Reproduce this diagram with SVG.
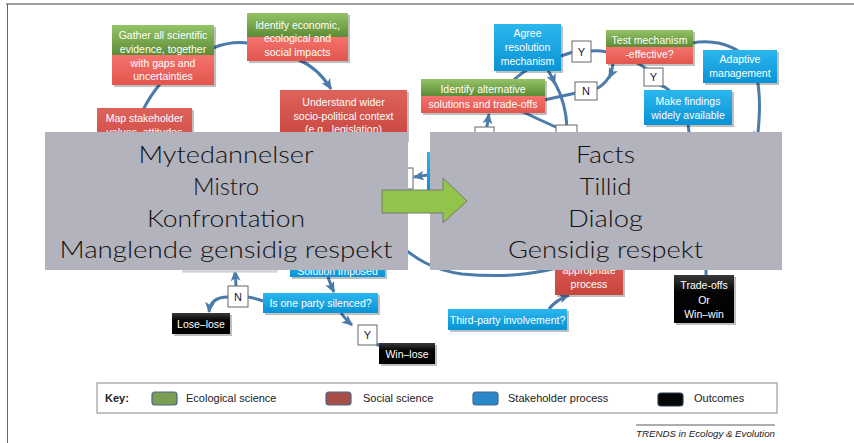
<svg xmlns="http://www.w3.org/2000/svg" width="854" height="443" viewBox="0 0 854 443">
<defs>
<linearGradient id="gG" x1="0" y1="0" x2="0" y2="1"><stop offset="0" stop-color="#94c466"/><stop offset="1" stop-color="#5c8b36"/></linearGradient>
<linearGradient id="gR" x1="0" y1="0" x2="0" y2="1"><stop offset="0" stop-color="#f4736c"/><stop offset="1" stop-color="#e2564f"/></linearGradient>
<linearGradient id="gRD" x1="0" y1="0" x2="0" y2="1"><stop offset="0" stop-color="#de625b"/><stop offset="1" stop-color="#c9463f"/></linearGradient>
<linearGradient id="gB" x1="0" y1="0" x2="0" y2="1"><stop offset="0" stop-color="#2cb6ee"/><stop offset="1" stop-color="#0a93d5"/></linearGradient>
<linearGradient id="gK" x1="0" y1="0" x2="0" y2="1"><stop offset="0" stop-color="#3a3a3a"/><stop offset="0.35" stop-color="#050505"/><stop offset="1" stop-color="#000"/></linearGradient>
<marker id="ah" viewBox="0 0 10 10" refX="9" refY="5" markerWidth="11" markerHeight="11" markerUnits="userSpaceOnUse" orient="auto"><path d="M0,0.5 L10,5 L0,9.5 L2.5,5 z" fill="#4a7bab"/></marker>
<style>
.c{fill:none;stroke:#4a7bab;stroke-width:3}
.sh{fill:#000;opacity:.25}
.t{font-family:"Liberation Sans",Arial,sans-serif;font-size:10.5px;fill:#fff;text-anchor:middle}
.lb{fill:#fff;stroke:#666;stroke-width:1}
.lt{font-family:"Liberation Sans",Arial,sans-serif;font-size:11px;fill:#1a1a3a;text-anchor:middle}
.kt{font-family:"Liberation Sans",Arial,sans-serif;font-size:11px;fill:#222}
.ov{fill:#b3b3bd}
.bt{font-family:"Lato","DejaVu Sans","Liberation Sans",sans-serif;font-weight:300;font-size:24px;fill:#111;text-anchor:middle}
</style>
</defs>
<rect width="854" height="443" fill="#fff"/>
<line x1="6" y1="4" x2="854" y2="4" stroke="#a0a0a0" stroke-width="2"/>
<line x1="7.5" y1="4" x2="7.5" y2="443" stroke="#666" stroke-width="1"/>

<g id="connectors">
<path class="c" d="M143,110 Q150,96 160,84"/>
<path class="c" d="M213,48 Q230,41 248,43"/>
<path class="c" d="M299,60 Q318,68 331,89" marker-end="url(#ah)"/>
<path class="c" d="M561,56 L573,52"/>
<path class="c" d="M590,51 Q598,50 607,52"/>
<path class="c" d="M613,64 Q612,72 609,78" marker-end="url(#ah)"/>
<path class="c" d="M609,77 Q604,85 596,89"/>
<path class="c" d="M576,93 L544,100"/>
<path class="c" d="M637,63 Q643,66 648,70"/>
<path class="c" d="M660,85 Q666,87 670,91"/>
<path class="c" d="M692,43 C720,38 752,50 757,78 C761,98 760,118 757,141" marker-end="url(#ah)"/>
<path class="c" d="M688,124 L690,140"/>
<path class="c" d="M503,92 Q515,76 532,67"/>
<path class="c" d="M548,70 Q552,77 555,84" marker-end="url(#ah)"/>
<path class="c" d="M555,83 Q566,103 567,128"/>
<path class="c" d="M523,112 Q540,120 558,128"/>
<path class="c" d="M486,132 L489,114" marker-end="url(#ah)"/>
<path class="c" d="M428,175 L414,177" marker-end="url(#ah)"/>
<path class="c" d="M398,244 C415,258 432,270 462,274 C505,278 532,274 557,268"/>
<path class="c" d="M328,277 Q331,286 334,292" marker-end="url(#ah)"/>
<path class="c" d="M263,301 Q255,298 248,297"/>
<path class="c" d="M236,286 L235,271" marker-end="url(#ah)"/>
<path class="c" d="M228,297 C216,297 210,302 209,312" marker-end="url(#ah)"/>
<path class="c" d="M341,313 Q346,320 352,325" marker-end="url(#ah)"/>
<path class="c" d="M376,344 L381,346"/>
<path class="c" d="M549,309 Q556,300 569,295" marker-end="url(#ah)"/>
<path class="c" d="M706,262 L706,276"/>
</g>

<g id="n-gather">
<rect class="sh" x="114" y="27" width="102" height="60"/>
<rect x="112" y="25" width="102" height="30" fill="url(#gG)"/>
<rect x="112" y="55" width="102" height="30" fill="url(#gR)"/>
<text class="t" x="163" y="38.5">Gather all scientific</text>
<text class="t" x="163" y="52.5">evidence, together</text>
<text class="t" x="163" y="66.5">with gaps and</text>
<text class="t" x="163" y="80">uncertainties</text>
</g>
<g id="n-econ">
<rect class="sh" x="249" y="15" width="101" height="48"/>
<rect x="247" y="13" width="101" height="24" fill="url(#gG)"/>
<rect x="247" y="37" width="101" height="24" fill="url(#gR)"/>
<text class="t" x="297.5" y="28.5">Identify economic,</text>
<text class="t" x="297.5" y="42">ecological and</text>
<text class="t" x="297.5" y="55.5">social impacts</text>
</g>
<g id="n-map">
<rect class="sh" x="99" y="110" width="95" height="50"/>
<rect x="97" y="108" width="95" height="50" fill="url(#gRD)"/>
<text class="t" x="144.5" y="121.5">Map stakeholder</text>
<text class="t" x="144.5" y="135.5">values, attitudes</text>
</g>
<g id="n-understand">
<rect class="sh" x="282" y="92" width="127" height="50"/>
<rect x="280" y="90" width="127" height="50" fill="url(#gRD)"/>
<text class="t" x="343.5" y="105.5">Understand wider</text>
<text class="t" x="343.5" y="119.5">socio-political context</text>
<text class="t" x="343.5" y="133">(e.g., legislation)</text>
</g>
<g id="n-agree">
<rect class="sh" x="496" y="26" width="67" height="47"/>
<rect x="494" y="24" width="67" height="47" fill="url(#gB)"/>
<text class="t" x="527.5" y="36.5">Agree</text>
<text class="t" x="527.5" y="50.5">resolution</text>
<text class="t" x="527.5" y="64.5">mechanism</text>
</g>
<g id="n-test">
<rect class="sh" x="608" y="32" width="87" height="34"/>
<rect x="606" y="30" width="87" height="17" fill="url(#gG)"/>
<rect x="606" y="47" width="87" height="17" fill="url(#gR)"/>
<text class="t" x="649.5" y="43.5">Test mechanism</text>
<text class="t" x="649.5" y="57.5">-effective?</text>
</g>
<g id="n-altern">
<rect class="sh" x="423" y="81" width="124" height="34"/>
<rect x="421" y="79" width="124" height="17" fill="url(#gG)"/>
<rect x="421" y="96" width="124" height="17" fill="url(#gR)"/>
<text class="t" x="483" y="93">Identify alternative</text>
<text class="t" x="483" y="107.5">solutions and trade-offs</text>
</g>
<g id="n-adaptive">
<rect class="sh" x="705" y="52" width="74" height="33"/>
<rect x="703" y="50" width="74" height="33" fill="url(#gB)"/>
<text class="t" x="740" y="62.5">Adaptive</text>
<text class="t" x="740" y="76.5">management</text>
</g>
<g id="n-findings">
<rect class="sh" x="646" y="92" width="88" height="35"/>
<rect x="644" y="90" width="88" height="35" fill="url(#gB)"/>
<text class="t" x="688" y="104.5">Make findings</text>
<text class="t" x="688" y="118.5">widely available</text>
</g>
<g id="n-hidden-blue">
<rect x="427" y="152" width="70" height="38" fill="url(#gB)"/>
</g>
<g id="n-hidden-light">
<rect x="183" y="240" width="94" height="32" fill="#dcdce3" stroke="#c4c4cc"/>
</g>
<g id="n-imposed">
<rect class="sh" x="292" y="260" width="95" height="19"/>
<rect x="290" y="258" width="95" height="19" fill="url(#gB)"/>
<text class="t" x="337.5" y="275">Solution imposed</text>
</g>
<g id="n-silenced">
<rect class="sh" x="265" y="295" width="115" height="20"/>
<rect x="263" y="293" width="115" height="20" fill="url(#gB)"/>
<text class="t" x="320.5" y="307">Is one party silenced?</text>
</g>
<g id="n-loselose">
<rect class="sh" x="174" y="315" width="58" height="21"/>
<rect x="172" y="313" width="58" height="21" fill="url(#gK)"/>
<text class="t" x="201" y="327.5">Lose–lose</text>
</g>
<g id="n-winlose">
<rect class="sh" x="381" y="345" width="56" height="21"/>
<rect x="379" y="343" width="56" height="21" fill="url(#gK)"/>
<text class="t" x="407" y="357.5">Win–lose</text>
</g>
<g id="n-appropriate">
<rect class="sh" x="557" y="250" width="68" height="47"/>
<rect x="555" y="248" width="68" height="47" fill="url(#gRD)"/>
<text class="t" x="589" y="274">appropriate</text>
<text class="t" x="589" y="288">process</text>
</g>
<g id="n-thirdparty">
<rect class="sh" x="450" y="311" width="119" height="21"/>
<rect x="448" y="309" width="119" height="21" fill="url(#gB)"/>
<text class="t" x="507.5" y="323.5">Third-party involvement?</text>
</g>
<g id="n-tradeoffs">
<rect class="sh" x="676" y="277" width="60" height="48"/>
<rect x="674" y="275" width="60" height="48" fill="url(#gK)"/>
<text class="t" x="704" y="289">Trade-offs</text>
<text class="t" x="704" y="304">Or</text>
<text class="t" x="704" y="318">Win–win</text>
</g>

<g id="labels">
<rect class="lb" x="572" y="41" width="19" height="21"/><text class="lt" x="581.5" y="55.5">Y</text>
<rect class="lb" x="644" y="68" width="19" height="18"/><text class="lt" x="653.5" y="81">Y</text>
<rect class="lb" x="575" y="82" width="22" height="18"/><text class="lt" x="586" y="95">N</text>
<rect class="lb" x="475" y="127" width="19" height="20"/>
<rect class="lb" x="556" y="125" width="21" height="20"/>
<rect class="lb" x="395" y="168" width="18" height="21"/>
<rect class="lb" x="228" y="286" width="20" height="21"/><text class="lt" x="238" y="300.5">N</text>
<rect class="lb" x="358" y="325" width="19" height="20"/><text class="lt" x="367.5" y="339">Y</text>
</g>

<g id="key">
<rect x="97" y="383" width="680" height="30" fill="#fff" stroke="#888" stroke-width="1"/>
<text class="kt" x="105" y="402" font-weight="bold">Key:</text>
<rect x="152" y="392" width="25" height="13" rx="3" fill="#7c9e54" stroke="#4a6688" stroke-width="1.2"/>
<text class="kt" x="186" y="402">Ecological science</text>
<rect x="326" y="392" width="25" height="13" rx="3" fill="#a64f48" stroke="#4a6688" stroke-width="1.2"/>
<text class="kt" x="363" y="402">Social science</text>
<rect x="473" y="392" width="25" height="13" rx="3" fill="#2a88c8" stroke="#4a6688" stroke-width="1.2"/>
<text class="kt" x="508" y="402">Stakeholder process</text>
<rect x="658" y="393" width="25" height="13" rx="3" fill="#070707" stroke="#2a3a55" stroke-width="1.2"/>
<text class="kt" x="694" y="402">Outcomes</text>
</g>
<line x1="636" y1="425" x2="775" y2="425" stroke="#333" stroke-width="0.8"/>
<text x="636" y="437" font-family="Liberation Sans, Arial, sans-serif" font-size="9.5" font-style="italic" fill="#222" textLength="139" lengthAdjust="spacingAndGlyphs">TRENDS in Ecology &amp; Evolution</text>

<g id="overlay-left">
<rect class="ov" x="45" y="132" width="363" height="138"/>
<text class="bt" x="226" y="163" textLength="175" lengthAdjust="spacingAndGlyphs">Mytedannelser</text>
<text class="bt" x="226" y="195" textLength="66" lengthAdjust="spacingAndGlyphs">Mistro</text>
<text class="bt" x="226" y="227" textLength="158" lengthAdjust="spacingAndGlyphs">Konfrontation</text>
<text class="bt" x="226" y="258" textLength="333" lengthAdjust="spacingAndGlyphs">Manglende gensidig respekt</text>
</g>
<g id="overlay-right">
<rect class="ov" x="430" y="132" width="352" height="138"/>
<text class="bt" x="605.5" y="163" textLength="59" lengthAdjust="spacingAndGlyphs">Facts</text>
<text class="bt" x="605.5" y="195" textLength="52" lengthAdjust="spacingAndGlyphs">Tillid</text>
<text class="bt" x="605.5" y="227" textLength="75" lengthAdjust="spacingAndGlyphs">Dialog</text>
<text class="bt" x="605.5" y="258" textLength="195" lengthAdjust="spacingAndGlyphs">Gensidig respekt</text>
</g>
<g id="green-arrow">
<polygon points="382,190 443,190 443,178 467,201 443,223 443,213 382,213" fill="#92c34b" stroke="#707a70" stroke-width="1"/>
</g>
</svg>
